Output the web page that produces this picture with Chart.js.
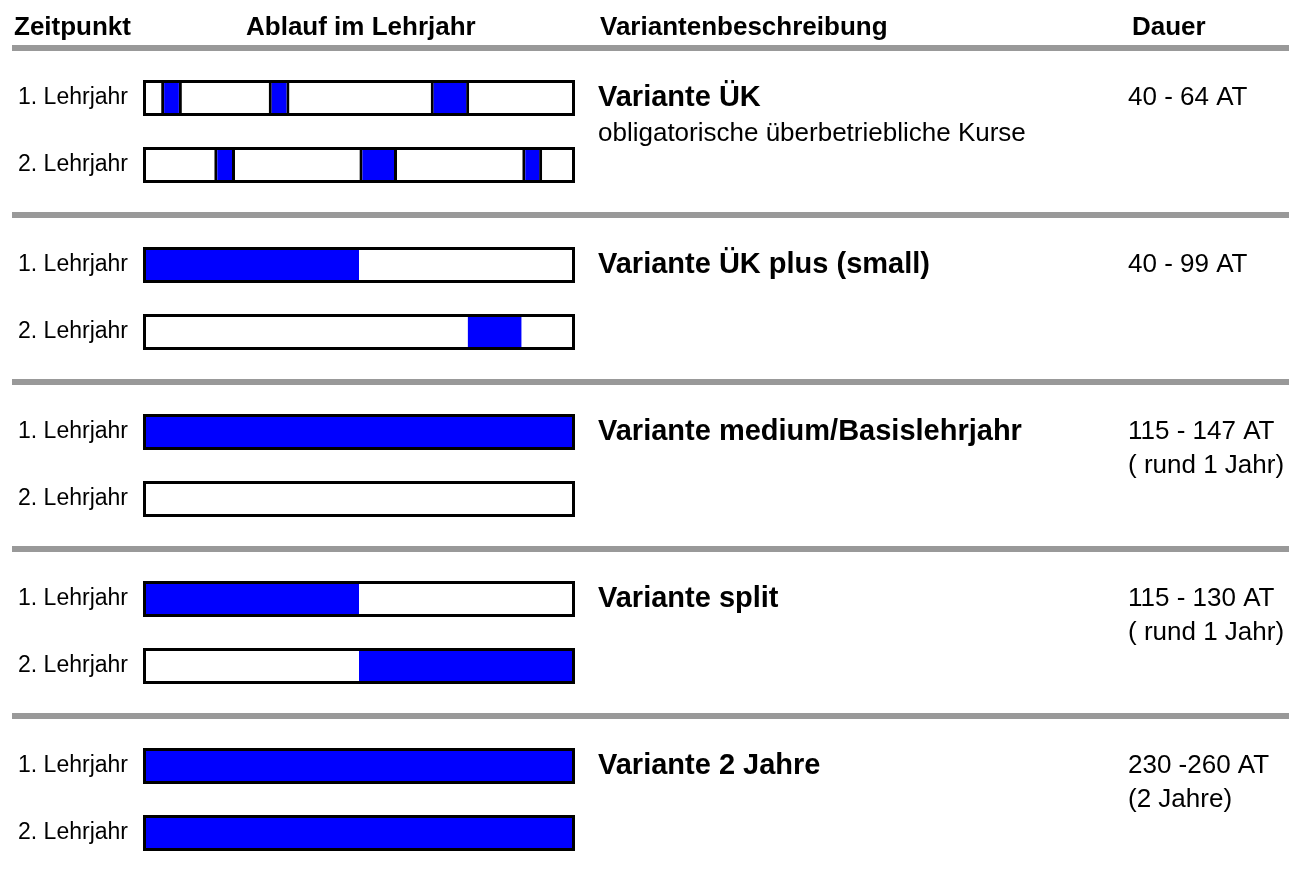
<!DOCTYPE html>
<html>
<head>
<meta charset="utf-8">
<script src="https://cdn.jsdelivr.net/npm/chart.js@4.4.0/dist/chart.umd.min.js"></script>
<style>
  html, body { margin: 0; padding: 0; background: #fff; overflow: hidden; }
  canvas { display: block; }
</style>
</head>
<body>
<canvas id="plan" width="1289" height="883"></canvas>
<script>
const headers = ['Zeitpunkt', 'Ablauf im Lehrjahr', 'Variantenbeschreibung', 'Dauer'];
const yearLabels = ['1. Lehrjahr', '2. Lehrjahr'];
const variants = ['Variante ÜK', 'Variante ÜK plus (small)', 'Variante medium/Basislehrjahr', 'Variante split', 'Variante 2 Jahre'];
const subtitles = ['obligatorische überbetriebliche Kurse', '', '', '', ''];
const durations = [
  ['40 - 64 AT'],
  ['40 - 99 AT'],
  ['115 - 147 AT', '( rund 1 Jahr)'],
  ['115 - 130 AT', '( rund 1 Jahr)'],
  ['230 -260 AT', '(2 Jahre)']
];

// blue periods, in % of the school year
const year1Periods = [
  [[4.2, 9.0], [29.1, 33.9], [66.6, 75.5]],
  [[0, 50]],
  [[0, 100]],
  [[0, 50]],
  [[0, 100]]
];
const year2Periods = [
  [[16.5, 21.3], [50.1, 58.8], [87.8, 92.4]],
  [[75.2, 87.6]],
  [],
  [[50, 100]],
  [[0, 100]]
];
// variants made of single course blocks (drawn with edges)
const blockVariants = [0];

// layout
const FONT = "'Liberation Sans', Arial, sans-serif";
const rowFrac = [0.3, 0.7];       // row position inside a variant band
const headerX = [14, 246, 600, 1132];
const descX = 598;
const durX = 1128;

const outlineData = [];
const blockData = [];
const fillData = [];
variants.forEach((v, g) => {
  [year1Periods[g], year2Periods[g]].forEach((periods, yr) => {
    const pos = g + rowFrac[yr];
    outlineData.push({ x: [0, 100], y: pos });
    periods.forEach(p => {
      const pt = { x: p, y: pos };
      if (blockVariants.includes(g)) blockData.push(pt);
      else fillData.push(pt);
    });
  });
});

const tablePlugin = {
  id: 'tableText',
  beforeDatasetsDraw(chart) {
    const ctx = chart.ctx;
    const y = chart.scales.y;
    ctx.save();
    ctx.fillStyle = '#999999';
    for (let g = 0; g < variants.length; g++) {
      const py = y.getPixelForValue(g);
      ctx.fillRect(12, py - 3, chart.width - 12, 6);
    }
    ctx.restore();
  },
  afterDraw(chart) {
    const ctx = chart.ctx;
    const y = chart.scales.y;
    const left = chart.chartArea.left;
    ctx.save();
    ctx.fillStyle = '#000';
    ctx.textBaseline = 'middle';

    ctx.font = 'bold 26px ' + FONT;
    ctx.textAlign = 'left';
    const hy = y.getPixelForValue(0) - 20;
    headers.forEach((h, i) => ctx.fillText(h, headerX[i], hy));

    variants.forEach((v, g) => {
      const y1 = y.getPixelForValue(g + rowFrac[0]);
      const y2 = y.getPixelForValue(g + rowFrac[1]);

      ctx.font = '23px ' + FONT;
      ctx.textAlign = 'right';
      ctx.fillText(yearLabels[0], left - 15, y1);
      ctx.fillText(yearLabels[1], left - 15, y2);

      ctx.textAlign = 'left';
      ctx.font = 'bold 29px ' + FONT;
      ctx.fillText(v, descX, y1);
      if (subtitles[g]) {
        ctx.font = '26px ' + FONT;
        ctx.fillText(subtitles[g], descX, y1 + 36);
      }
      ctx.font = '26px ' + FONT;
      durations[g].forEach((d, i) => ctx.fillText(d, durX, y1 + i * 34));
    });
    ctx.restore();
  }
};

new Chart(document.getElementById('plan'), {
  type: 'bar',
  data: {
    datasets: [
      {
        label: 'Lehrjahr',
        data: outlineData,
        backgroundColor: 'rgba(0,0,0,0)',
        borderColor: '#000',
        borderWidth: 3,
        borderSkipped: false,
        order: 0
      },
      {
        label: 'ÜK-Blöcke',
        data: blockData,
        backgroundColor: '#0000ff',
        borderColor: '#000',
        borderWidth: { left: 3, right: 3, top: 0, bottom: 0 },
        borderSkipped: false,
        order: 1
      },
      {
        label: 'Lehrgang',
        data: fillData,
        backgroundColor: '#0000ff',
        borderWidth: 0,
        borderSkipped: false,
        order: 2
      }
    ]
  },
  options: {
    indexAxis: 'y',
    responsive: false,
    animation: false,
    events: [],
    layout: { padding: { left: 143, right: 714, top: 48, bottom: 0 } },
    datasets: { bar: { barThickness: 36, grouped: false, inflateAmount: 0 } },
    scales: {
      x: { type: 'linear', min: 0, max: 100, offset: false, display: false },
      y: { type: 'linear', min: 0, max: 5, reverse: true, offset: false, display: false }
    },
    plugins: { legend: { display: false }, tooltip: { enabled: false } }
  },
  plugins: [tablePlugin]
});
</script>
</body>
</html>
